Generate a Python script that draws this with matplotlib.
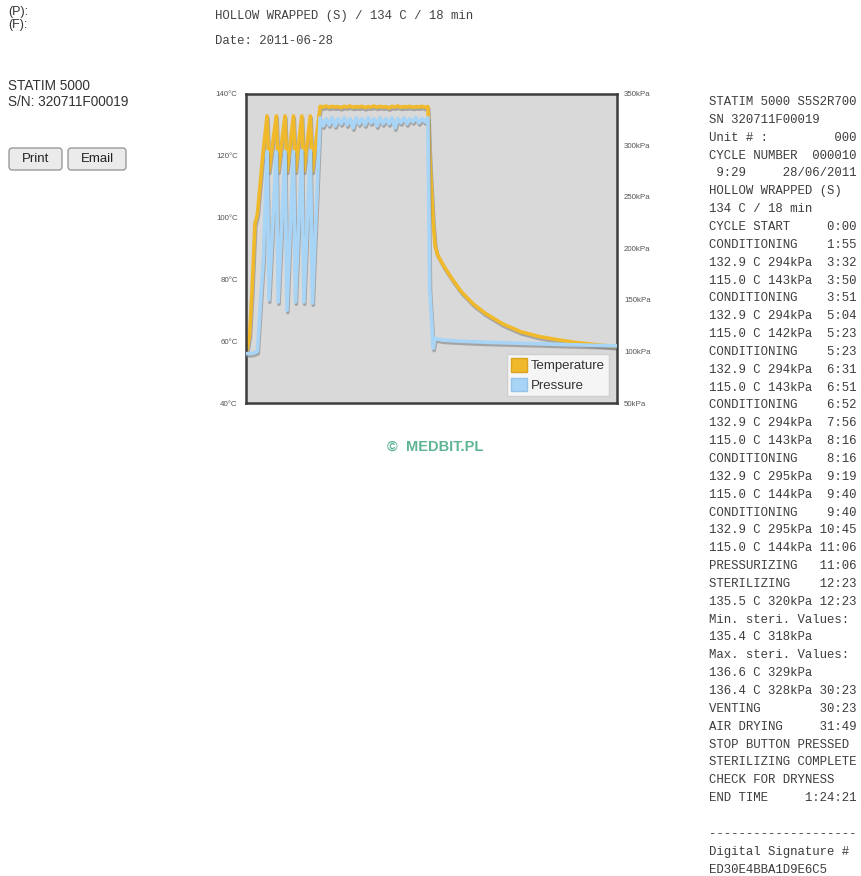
import matplotlib
matplotlib.use("Agg")
import matplotlib.pyplot as plt
import matplotlib.patheffects as pe
from matplotlib.patches import FancyBboxPatch, Patch

W, H = 861, 876

# ---- data (time in minutes) ----
cond_time = [0.2, 0.6, 1.0, 1.5, 1.9, 2.9, 3.53, 3.83, 5.07, 5.38, 6.52, 6.85,
             7.93, 8.27, 9.32, 9.67, 10.75, 11.1]
cond_temp = [57.5, 62.0, 76.0, 98.0, 101.0, 122.0, 132.9, 115.0, 132.9, 115.0,
             132.9, 115.0, 132.9, 115.0, 132.9, 115.0, 132.9, 115.0]
cond_pres = [98.0, 98.0, 98.0, 99.0, 100.0, 190.0, 294.0, 150.0, 294.0, 148.0,
             294.0, 140.0, 294.0, 148.0, 295.0, 148.0, 295.0, 147.0]

steri_time = [12.4, 12.9, 13.4, 13.9, 14.4, 14.9, 15.4, 15.9, 16.4, 16.9, 17.4,
              17.9, 18.4, 18.9, 19.4, 19.9, 20.4, 20.9, 21.4, 21.9, 22.4, 22.9,
              23.4, 23.9, 24.4, 24.9, 25.4, 25.9, 26.4, 26.9, 27.4, 27.9, 28.4,
              28.9, 29.4, 29.9, 30.4]
steri_temp = [136.0, 135.8, 136.1, 135.7, 136.0, 135.8, 135.9, 135.6, 136.0,
              135.8, 136.1, 135.7, 135.9, 135.8, 136.0, 135.6, 135.9, 135.8,
              136.1, 135.7, 136.0, 135.8, 135.9, 135.5, 136.0, 135.8, 136.1,
              135.7, 135.9, 135.8, 136.0, 135.7, 135.9, 135.8, 136.0, 135.7, 135.9]
steri_pres = [327, 319, 326, 320, 327, 319, 326, 321, 327, 320, 326, 317,
              327, 321, 326, 320, 327, 322, 326, 319, 327, 321, 326, 321,
              327, 317, 326, 322, 327, 321, 326, 323, 327, 322, 326, 323, 327]

vent_time = [30.7, 31.3, 31.6, 32.0, 33.0, 34.5, 36.0, 38.0, 40.0, 43.0, 46.0,
             49.0, 52.0, 55.0, 58.0, 62.0]
vent_temp = [120.0, 98.0, 91.0, 88.0, 84.5, 80.0, 76.0, 72.0, 69.0, 65.5, 63.0,
             61.5, 60.5, 59.6, 59.0, 58.2]
vent_pres = [160.0, 103.0, 113.0, 112.0, 111.0, 110.5, 110.0, 109.5, 109.0,
             108.5, 108.0, 107.5, 107.0, 106.5, 106.0, 105.5]

temp_ticks = [40, 60, 80, 100, 120, 140]
pres_ticks = [50, 100, 150, 200, 250, 300, 350]

header_lines = ["HOLLOW WRAPPED (S) / 134 C / 18 min", "Date: 2011-06-28"]
device_lines = ["STATIM 5000", "S/N: 320711F00019"]
button_labels = ["Print", "Email"]

printout = [
    "STATIM 5000 S5S2R700",
    "SN 320711F00019",
    "Unit # :         000",
    "CYCLE NUMBER  000010",
    " 9:29     28/06/2011",
    "HOLLOW WRAPPED (S)",
    "134 C / 18 min",
    "CYCLE START     0:00",
    "CONDITIONING    1:55",
    "132.9 C 294kPa  3:32",
    "115.0 C 143kPa  3:50",
    "CONDITIONING    3:51",
    "132.9 C 294kPa  5:04",
    "115.0 C 142kPa  5:23",
    "CONDITIONING    5:23",
    "132.9 C 294kPa  6:31",
    "115.0 C 143kPa  6:51",
    "CONDITIONING    6:52",
    "132.9 C 294kPa  7:56",
    "115.0 C 143kPa  8:16",
    "CONDITIONING    8:16",
    "132.9 C 295kPa  9:19",
    "115.0 C 144kPa  9:40",
    "CONDITIONING    9:40",
    "132.9 C 295kPa 10:45",
    "115.0 C 144kPa 11:06",
    "PRESSURIZING   11:06",
    "STERILIZING    12:23",
    "135.5 C 320kPa 12:23",
    "Min. steri. Values:",
    "135.4 C 318kPa",
    "Max. steri. Values:",
    "136.6 C 329kPa",
    "136.4 C 328kPa 30:23",
    "VENTING        30:23",
    "AIR DRYING     31:49",
    "STOP BUTTON PRESSED",
    "STERILIZING COMPLETE",
    "CHECK FOR DRYNESS",
    "END TIME     1:24:21",
    "",
    "--------------------",
    "Digital Signature #",
    "ED30E4BBA1D9E6C5",
]

TEMP_COLOR = "#F0B92C"
PRES_COLOR = "#A8D4F6"
SANS = "Liberation Sans"
MONO = "Liberation Mono"


def fx(x):
    return x / W


def fy(y):
    return 1 - y / H


fig = plt.figure(figsize=(W / 100, H / 100), dpi=100)
fig.patch.set_facecolor("white")

# left column
fig.text(fx(8), fy(12), "(P):", family=SANS, size=9, color="#333333", va="center")
fig.text(fx(8), fy(25), "(F):", family=SANS, size=9, color="#333333", va="center")
for i, line in enumerate(device_lines):
    fig.text(fx(8), fy(86 + 16 * i), line, family=SANS, size=9.8,
             color="#333333", va="center")

for label, (x0, x1) in zip(button_labels, [(9, 62), (68, 126)]):
    box = FancyBboxPatch((fx(x0), fy(170)), fx(x1 - x0), (170 - 148) / H,
                         boxstyle="round,pad=0,rounding_size=0.004",
                         transform=fig.transFigure, facecolor="#EBEBEB",
                         edgecolor="#9A9A9A", linewidth=1)
    fig.add_artist(box)
    fig.text(fx((x0 + x1) / 2), fy(159), label, family=SANS, size=9.5,
             color="#222222", ha="center", va="center")

# header
for i, line in enumerate(header_lines):
    fig.text(fx(215), fy(16 + 25 * i), line, family=MONO, size=8.9,
             color="#444444", va="center")

# chart
ax = fig.add_axes([fx(246), fy(403), fx(617 - 246), (403 - 94) / H])
ax.set_facecolor("#D9D9D9")
ax2 = ax.twinx()

shadow = [pe.SimpleLineShadow(offset=(0.6, -1.6), shadow_color="#7a7a7a", alpha=0.55),
          pe.Normal()]

temp_t = cond_time + [12.38] + steri_time + vent_time
temp_v = cond_temp + [135.8] + steri_temp + vent_temp
pres_t = cond_time + [12.38] + steri_time + vent_time
pres_v = cond_pres + [326.0] + steri_pres + vent_pres

ax.plot(temp_t, temp_v, color=TEMP_COLOR, lw=2.6, solid_joinstyle="round",
        path_effects=shadow, zorder=3)
ax2.plot(pres_t, pres_v, color=PRES_COLOR, lw=2.6, solid_joinstyle="round",
         path_effects=shadow, zorder=3)

ax.set_xlim(0, 62)
ax.set_ylim(40, 140)
ax2.set_ylim(50, 350)
ax.set_xticks([])
ax.set_yticks(temp_ticks)
ax.set_yticklabels([f"{t}°C" for t in temp_ticks])
ax2.set_yticks(pres_ticks)
ax2.set_yticklabels([f"{p}kPa" for p in pres_ticks])
ax.tick_params(axis="y", length=0, pad=6, labelsize=5.7, labelcolor="#555555")
ax2.tick_params(axis="y", length=0, pad=5, labelsize=5.7, labelcolor="#555555")
for lab in ax.get_yticklabels() + ax2.get_yticklabels():
    lab.set_family(SANS)
for spine in ax2.spines.values():
    spine.set_color("#3c3c3c")
    spine.set_linewidth(1.8)
for spine in ax.spines.values():
    spine.set_visible(False)

handles = [Patch(facecolor=TEMP_COLOR, edgecolor="#d9a41f", label="Temperature"),
           Patch(facecolor=PRES_COLOR, edgecolor="#94c4ea", label="Pressure")]
leg = ax2.legend(handles=handles, loc="lower right", bbox_to_anchor=(0.978, 0.023),
                 borderaxespad=0, frameon=True, fancybox=False, framealpha=1,
                 facecolor="#F5F5F5", edgecolor="#CFCFCF",
                 prop={"family": SANS, "size": 9.5}, handlelength=1.2,
                 handleheight=1.2, handletextpad=0.3, labelspacing=0.4,
                 borderpad=0.3)
for txt in leg.get_texts():
    txt.set_color("#333333")

fig.text(fx(435), fy(447), "©  MEDBIT.PL", family=SANS, size=10.5,
         weight="bold", color="#5DB593", ha="center", va="center")

# printout
for i, line in enumerate(printout):
    if line:
        fig.text(fx(709), fy(102 + 17.85 * i), line, family=MONO, size=8.9,
                 color="#3d3d3d", va="center")

fig.savefig("out.png", dpi=100, facecolor="white")
plt.close(fig)
